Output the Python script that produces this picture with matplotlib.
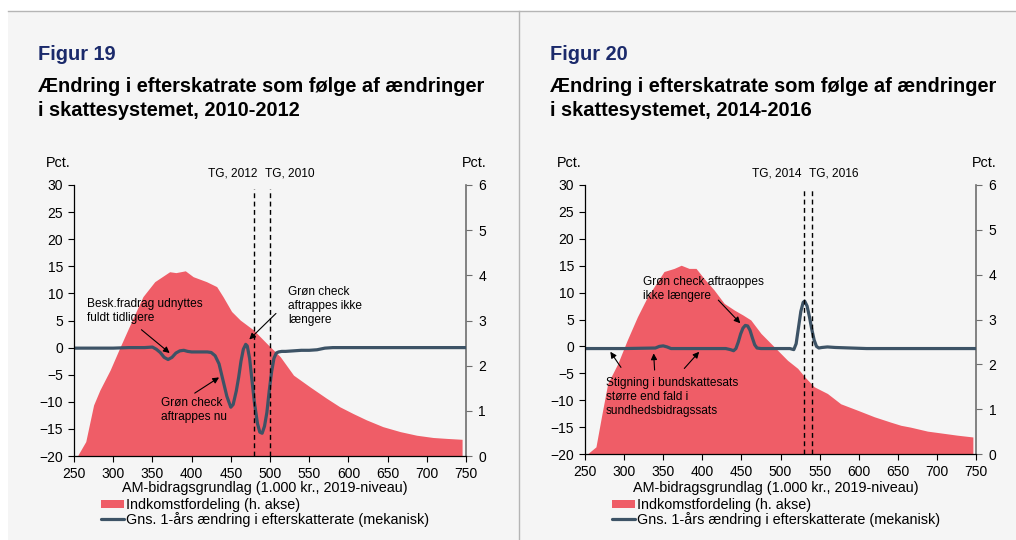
import matplotlib
matplotlib.use("Agg")
import matplotlib.pyplot as plt
from matplotlib.patches import Rectangle
from matplotlib.lines import Line2D
import matplotlib.transforms as mtransforms

plt.rcParams['font.family'] = ['Liberation Sans', 'DejaVu Sans']

# ---- data, figur 19 (2010-2012) ----
inc_x_19 = [255, 265, 275, 283, 296, 309, 326, 338, 353, 372, 380, 392, 402, 419, 432, 440,
            451, 462, 479, 496, 513, 530, 551, 572, 589, 606, 623, 644, 666, 687, 708, 725, 745]
inc_y_19 = [0.02, 0.32, 1.13, 1.46, 1.9, 2.42, 3.08, 3.53, 3.86, 4.08, 4.06, 4.1, 3.97, 3.86, 3.75, 3.53,
            3.2, 3.01, 2.79, 2.49, 2.2, 1.79, 1.53, 1.28, 1.09, 0.94, 0.8, 0.65, 0.54, 0.46, 0.41, 0.39, 0.37]

chg_x_19 = [250, 270, 300, 320, 340, 350, 355, 360, 365, 370, 375, 380, 385, 390, 395, 400, 410, 420,
            425, 430, 435, 440, 445, 450, 453, 457, 460, 463, 466, 469, 471, 474, 477, 480, 484, 487,
            490, 493, 496, 499, 502, 505, 508, 511, 515, 520, 530, 540, 550, 560, 570, 580, 600, 650, 700, 750]
chg_y_19 = [-0.1, -0.1, -0.1, 0.0, 0.0, 0.1, -0.3, -0.9, -1.8, -2.2, -1.8, -1.0, -0.6, -0.5, -0.7, -0.8, -0.8, -0.8,
            -0.9, -1.5, -3.0, -6.0, -9.0, -11.0, -10.5, -8.0, -5.5, -2.5, -0.3, 0.6, 0.3, -2.0, -6.0, -10.0, -14.0, -15.6,
            -15.8, -14.5, -12.0, -8.0, -4.5, -2.0, -1.0, -0.8, -0.7, -0.7, -0.6, -0.5, -0.5, -0.4, -0.1, 0.0, 0.0, 0.0, 0.0, 0.0]

tg_19 = [480, 500]
tg_lab_19 = ['TG, 2012', 'TG, 2010']
tg_lab_x_19 = [453, 525.5]

# ---- data, figur 20 (2014-2016) ----
inc_x_20 = [253, 264, 271, 279, 292, 304, 317, 330, 341, 351, 364, 373, 383, 392, 402, 415, 428, 441, 452,
            462, 475, 492, 509, 522, 531, 543, 560, 577, 598, 620, 641, 654, 666, 688, 705, 726, 746]
inc_y_20 = [0.0, 0.16, 0.83, 1.57, 2.02, 2.54, 3.06, 3.51, 3.8, 4.07, 4.14, 4.21, 4.14, 4.14, 3.92, 3.66, 3.36, 3.21, 3.1,
            2.99, 2.69, 2.39, 2.09, 1.91, 1.72, 1.5, 1.35, 1.12, 0.98, 0.83, 0.71, 0.64, 0.6, 0.51, 0.47, 0.42, 0.38]

chg_x_20 = [250, 300, 340, 345, 350, 355, 360, 400, 430, 436, 440, 443, 446, 449, 452, 455, 458, 461, 464, 467,
            470, 475, 490, 512, 517, 520, 523, 526, 529, 531, 534, 537, 540, 543, 546, 549, 553, 560, 570, 590,
            610, 650, 700, 750]
chg_y_20 = [-0.4, -0.4, -0.3, 0.0, 0.1, -0.1, -0.4, -0.4, -0.4, -0.6, -0.8, -0.4, 0.8, 2.3, 3.4, 3.9, 3.8, 3.0, 1.6, 0.3,
            -0.3, -0.4, -0.4, -0.4, -0.6, 0.5, 3.5, 6.5, 8.2, 8.4, 7.5, 5.5, 3.2, 1.2, 0.0, -0.3, -0.2, -0.1, -0.2, -0.3,
            -0.4, -0.4, -0.4, -0.4]

tg_20 = [530, 540]
tg_lab_20 = ['TG, 2014', 'TG, 2016']
tg_lab_x_20 = [495.5, 568]

xticks = list(range(250, 751, 50))
yticks_l = list(range(-20, 31, 5))
yticks_r = list(range(0, 7))

RED = '#ef5d67'
LINE = '#3d5366'
NAVY = '#1b2a6b'
BG = '#f5f5f5'

W, H = 1016, 540
fig = plt.figure(figsize=(W / 100, H / 100), dpi=100, facecolor='white')

# panel background and frame lines (behind the axes)
fig.patches.append(Rectangle((8 / W, 0), 1 - 8 / W, (H - 11) / H, transform=fig.transFigure,
                             facecolor=BG, edgecolor='none', zorder=-5))
fig.lines.append(Line2D([8 / W, 1], [(H - 11) / H] * 2, transform=fig.transFigure, color='#b5b5b5', lw=1,
                        zorder=-4))
fig.lines.append(Line2D([519 / W] * 2, [0, (H - 11) / H], transform=fig.transFigure, color='#b5b5b5', lw=1,
                        zorder=-4))


def panel(rect, x0, fig_no, years, inc_x, inc_y, chg_x, chg_y, tg, tg_lab, tg_lab_x):
    ax = fig.add_axes(rect)
    axr = ax.twinx()
    ax.set_zorder(axr.get_zorder() + 1)
    ax.patch.set_visible(False)
    axr.patch.set_visible(False)

    area = axr.fill_between(inc_x, 0, inc_y, color=RED, lw=0, label='Indkomstfordeling (h. akse)')
    line, = ax.plot(chg_x, chg_y, color=LINE, lw=2.3, solid_capstyle='round',
                    label='Gns. 1-års ændring i efterskatterate (mekanisk)')

    ax.set_xlim(250, 750)
    ax.set_ylim(-20, 30)
    axr.set_ylim(0, 6)
    ax.set_xticks(xticks)
    ax.set_yticks(yticks_l)
    axr.set_yticks(yticks_r)

    for a in (ax, axr):
        a.spines['top'].set_visible(False)
    ax.spines['right'].set_visible(False)
    axr.spines['left'].set_visible(False)
    axr.spines['bottom'].set_visible(False)
    ax.spines['left'].set_linewidth(0.9)
    ax.spines['bottom'].set_linewidth(0.9)
    axr.spines['right'].set_color('#6e6e6e')
    axr.spines['right'].set_linewidth(1.2)
    ax.tick_params(axis='both', direction='out', length=4, width=0.8, labelsize=10, pad=4)
    axr.tick_params(axis='y', direction='out', length=4, width=0.8, labelsize=10, pad=5, color='#6e6e6e')

    trans = mtransforms.blended_transform_factory(ax.transData, ax.transAxes)
    for xv in tg:
        ax.plot([xv, xv], [0, 0.985], transform=trans, color='black', lw=1, ls=(0, (3.5, 2.5)))
    for xl, lab in zip(tg_lab_x, tg_lab):
        ax.text(xl, 1.042, lab, transform=trans, ha='center', va='center', fontsize=8.6)

    ax.text(-0.04, 1.082, 'Pct.', transform=ax.transAxes, ha='center', va='center', fontsize=10.4)
    ax.text(1.02, 1.082, 'Pct.', transform=ax.transAxes, ha='center', va='center', fontsize=10.4)

    # titles
    fig.text(x0 / W, 1 - 55 / H, fig_no, color=NAVY, fontsize=14.4, fontweight='bold', va='center')
    fig.text(x0 / W, 1 - 87 / H, 'Ændring i efterskatrate som følge af ændringer',
             fontsize=14.4, fontweight='bold', va='center')
    fig.text(x0 / W, 1 - 110 / H, 'i skattesystemet, ' + years, fontsize=14.4, fontweight='bold', va='center')

    # x label and legend
    cx = (rect[0] + rect[2] / 2) - 5 / W
    fig.text(cx, 1 - 488 / H, 'AM-bidragsgrundlag (1.000 kr., 2019-niveau)', ha='center', va='center',
             fontsize=10.4)
    fig.legend(handles=[area, line], loc='upper left',
               bbox_to_anchor=(rect[0] + 27 / W, 1 - 498 / H), frameon=False, fontsize=10.4,
               handlelength=1.6, handleheight=0.5, handletextpad=0.15, labelspacing=0.0,
               borderpad=0, borderaxespad=0)
    return ax


def arrow(ax, tail, head):
    ax.annotate('', xy=head, xytext=tail,
                arrowprops=dict(arrowstyle='-|>', color='black', lw=0.8, mutation_scale=9,
                                shrinkA=0, shrinkB=0))


ax1 = panel([74 / W, (H - 456) / H, 392 / W, 271 / H], 38, 'Figur 19', '2010-2012',
            inc_x_19, inc_y_19, chg_x_19, chg_y_19, tg_19, tg_lab_19, tg_lab_x_19)
ax1.text(266, 6.8, 'Besk.fradrag udnyttes\nfuldt tidligere', fontsize=8.6, va='center', ha='left', linespacing=1.25)
arrow(ax1, (336, 3.3), (372, -1.0))
ax1.text(361, -11.55, 'Grøn check\naftrappes nu', fontsize=8.6, va='center', ha='left', linespacing=1.25)
arrow(ax1, (404, -8.4), (435, -5.5))
ax1.text(523, 7.7, 'Grøn check\naftrappes ikke\nlængere', fontsize=8.6, va='center', ha='left', linespacing=1.25)
arrow(ax1, (507.6, 6.3), (473.6, 1.5))

ax2 = panel([585 / W, (H - 454) / H, 391 / W, 269 / H], 550, 'Figur 20', '2014-2016',
            inc_x_20, inc_y_20, chg_x_20, chg_y_20, tg_20, tg_lab_20, tg_lab_x_20)
ax2.text(323.7, 10.7, 'Grøn check aftraoppes\nikke længere', fontsize=8.6, va='center', ha='left',
         linespacing=1.25)
arrow(ax2, (420.5, 8.6), (448.6, 4.3))
ax2.text(277, -9.4, 'Stigning i bundskattesats\nstørre end fald i\nsundhedsbidragssats', fontsize=8.6,
         va='center', ha='left', linespacing=1.25)
arrow(ax2, (296, -3.9), (282.4, -1.0))
arrow(ax2, (339, -4.4), (337.8, -1.3))
arrow(ax2, (377, -4.1), (396, -1.0))

fig.savefig('out.png', dpi=100, facecolor=fig.get_facecolor())
